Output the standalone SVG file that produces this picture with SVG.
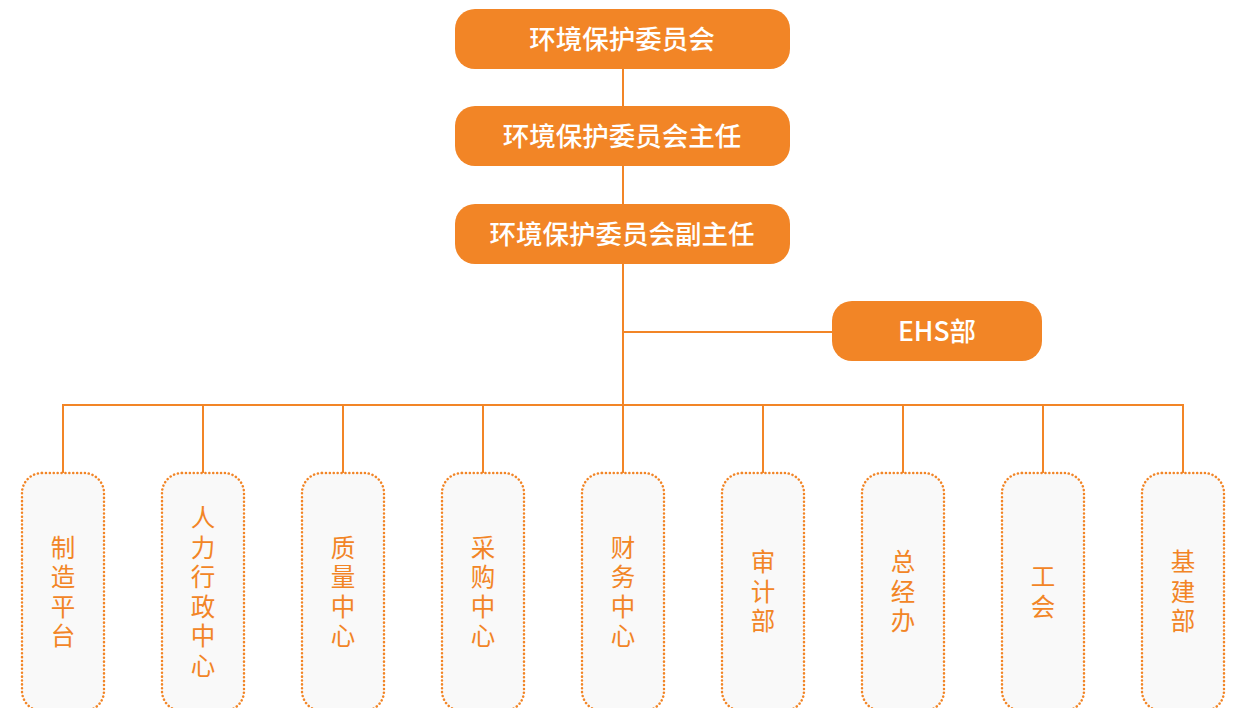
<svg xmlns="http://www.w3.org/2000/svg" width="1239" height="708" viewBox="0 0 1239 708">
<style>
.top{fill:#f28526}
.tt{fill:#ffffff;font-family:"Noto Sans CJK SC","Noto Sans",sans-serif;font-size:26.5px;font-weight:500;text-anchor:middle}
.leaf{fill:#f9f9f9;stroke:#f28526;stroke-width:2.5;stroke-dasharray:0.1 3.8;stroke-linecap:round}
.lt{fill:#f28526;font-family:"Noto Sans CJK SC",sans-serif;font-size:24.5px;font-weight:400;text-anchor:middle;writing-mode:vertical-rl;letter-spacing:5px}
.ln{stroke:#f28526;stroke-width:2;fill:none}
</style>
<rect width="1239" height="708" fill="#ffffff"/>
<g id="connectors">
<line class="ln" x1="623" y1="69" x2="623" y2="473"/>
<line class="ln" x1="623" y1="332" x2="833" y2="332"/>
<line class="ln" x1="62" y1="405" x2="1184" y2="405"/>
<line class="ln" x1="63" y1="405" x2="63" y2="473"/>
<line class="ln" x1="203" y1="405" x2="203" y2="473"/>
<line class="ln" x1="343" y1="405" x2="343" y2="473"/>
<line class="ln" x1="483" y1="405" x2="483" y2="473"/>
<line class="ln" x1="763" y1="405" x2="763" y2="473"/>
<line class="ln" x1="903" y1="405" x2="903" y2="473"/>
<line class="ln" x1="1043" y1="405" x2="1043" y2="473"/>
<line class="ln" x1="1183" y1="405" x2="1183" y2="473"/>
</g>
<g id="n1"><rect class="top" x="455" y="9" width="335" height="60" rx="20"/><text class="tt" x="622" y="48.5">环境保护委员会</text></g>
<g id="n2"><rect class="top" x="455" y="106" width="335" height="60" rx="20"/><text class="tt" x="622" y="145.5">环境保护委员会主任</text></g>
<g id="n3"><rect class="top" x="455" y="204" width="335" height="60" rx="20"/><text class="tt" x="622" y="243.5">环境保护委员会副主任</text></g>
<g id="ehs"><rect class="top" x="832" y="301" width="210" height="60" rx="20"/><text class="tt" x="937" y="340.5">EHS部</text></g>
<g id="b1"><rect class="leaf" x="22" y="473" width="82" height="238" rx="20"/><text class="lt" x="63" y="594">制造平台</text></g>
<g id="b2"><rect class="leaf" x="162" y="473" width="82" height="238" rx="20"/><text class="lt" x="203" y="594">人力行政中心</text></g>
<g id="b3"><rect class="leaf" x="302" y="473" width="82" height="238" rx="20"/><text class="lt" x="343" y="594">质量中心</text></g>
<g id="b4"><rect class="leaf" x="442" y="473" width="82" height="238" rx="20"/><text class="lt" x="483" y="594">采购中心</text></g>
<g id="b5"><rect class="leaf" x="582" y="473" width="82" height="238" rx="20"/><text class="lt" x="623" y="594">财务中心</text></g>
<g id="b6"><rect class="leaf" x="722" y="473" width="82" height="238" rx="20"/><text class="lt" x="763" y="594">审计部</text></g>
<g id="b7"><rect class="leaf" x="862" y="473" width="82" height="238" rx="20"/><text class="lt" x="903" y="594">总经办</text></g>
<g id="b8"><rect class="leaf" x="1002" y="473" width="82" height="238" rx="20"/><text class="lt" x="1043" y="594">工会</text></g>
<g id="b9"><rect class="leaf" x="1142" y="473" width="82" height="238" rx="20"/><text class="lt" x="1183" y="594">基建部</text></g>
</svg>
